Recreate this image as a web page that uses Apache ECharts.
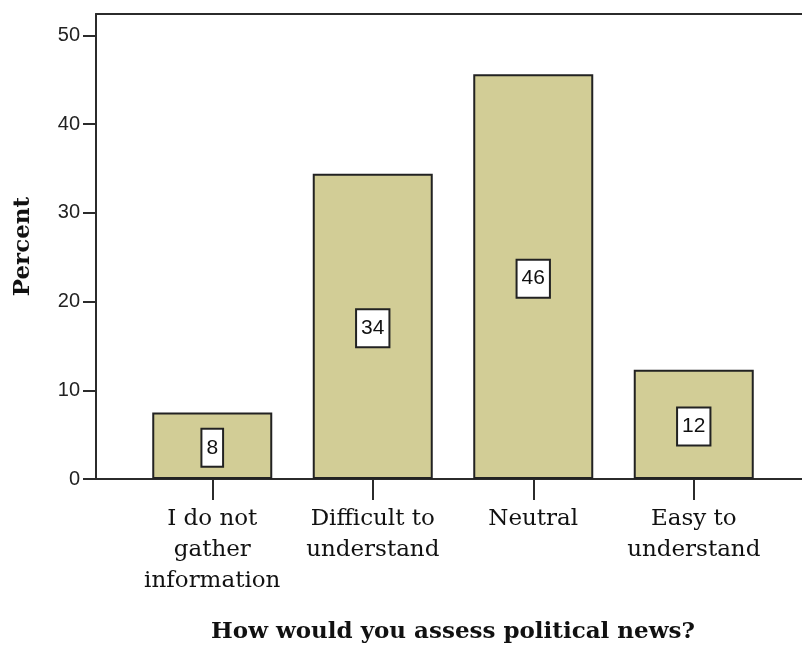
<!DOCTYPE html>
<html>
<head>
<meta charset="utf-8">
<script src="https://cdn.jsdelivr.net/npm/echarts@6/dist/echarts.min.js"></script>
<style>
html,body{margin:0;padding:0;background:#fff;}
#chart{width:802px;height:650px;}
</style>
</head>
<body>
<div id="chart"></div>
<script>
var categories = ['I do not\ngather\ninformation', 'Difficult to\nunderstand', 'Neutral', 'Easy to\nunderstand'];
var percentValues = [7.5, 34.4, 45.6, 12.3];
var yTicks = [0, 10, 20, 30, 40, 50];
var yMax = 52.4;
var xTitle = 'How would you assess political news?';
var yTitle = 'Percent';

var chart = echarts.init(document.getElementById('chart'), null, {renderer: 'canvas'});
var axisColor = '#2b2b2b';
var option = {
  backgroundColor: '#ffffff',
  animation: false,
  grid: [
    {left: 96, top: 14, right: -3, bottom: 171, containLabel: false, outerBoundsMode: 'none'},
    {left: 132, top: 14, right: 28, bottom: 171, containLabel: false, outerBoundsMode: 'none'}
  ],
  xAxis: [
    {gridIndex: 0, type: 'value', min: 0, max: 1, position: 'bottom',
     axisLine: {show: true, onZero: false, lineStyle: {color: axisColor, width: 2}},
     axisTick: {show: false}, axisLabel: {show: false}, splitLine: {show: false}},
    {gridIndex: 1, type: 'category', data: categories, position: 'bottom',
     boundaryGap: true,
     axisLine: {show: false},
     axisTick: {show: true, alignWithLabel: true, length: 21, lineStyle: {color: axisColor, width: 2}},
     axisLabel: {margin: 25, fontFamily: 'DejaVu Serif', fontSize: 23, lineHeight: 31, color: '#111', interval: 0},
     splitLine: {show: false},
     name: xTitle, nameLocation: 'middle', nameGap: 142,
     nameTextStyle: {fontFamily: 'DejaVu Serif', fontWeight: 'bold', fontSize: 23, color: '#111'}},
    {gridIndex: 0, type: 'value', min: 0, max: 1, position: 'top',
     axisLine: {show: true, onZero: false, lineStyle: {color: axisColor, width: 2}},
     axisTick: {show: false}, axisLabel: {show: false}, splitLine: {show: false}}
  ],
  yAxis: [
    {gridIndex: 0, type: 'value', min: 0, max: yMax, interval: 10,
     axisLine: {show: true, onZero: false, lineStyle: {color: axisColor, width: 2}},
     axisTick: {show: true, length: 13, customValues: yTicks, lineStyle: {color: axisColor, width: 2}},
     axisLabel: {margin: 16, customValues: yTicks, fontFamily: 'Liberation Sans', fontSize: 20, color: '#222'},
     splitLine: {show: false},
     name: yTitle, nameLocation: 'middle', nameGap: 61, nameRotate: 90,
     nameTextStyle: {fontFamily: 'DejaVu Serif', fontWeight: 'bold', fontSize: 23, color: '#111'}},
    {gridIndex: 1, type: 'value', min: 0, max: yMax, interval: 10, show: false}
  ],
  series: [{
    type: 'bar',
    xAxisIndex: 1,
    yAxisIndex: 1,
    data: percentValues,
    barWidth: 120,
    itemStyle: {color: '#d2cd96', borderColor: '#222', borderWidth: 2},
    label: {
      show: true,
      position: 'inside',
      offset: [0, 2],
      formatter: function (p) { return String(Math.round(p.value)); },
      fontFamily: 'Liberation Sans',
      fontSize: 21,
      color: '#111',
      backgroundColor: '#ffffff',
      borderColor: '#222',
      borderWidth: 2,
      padding: [8, 4, 7, 4]
    }
  }]
};
chart.setOption(option);
</script>
</body>
</html>
